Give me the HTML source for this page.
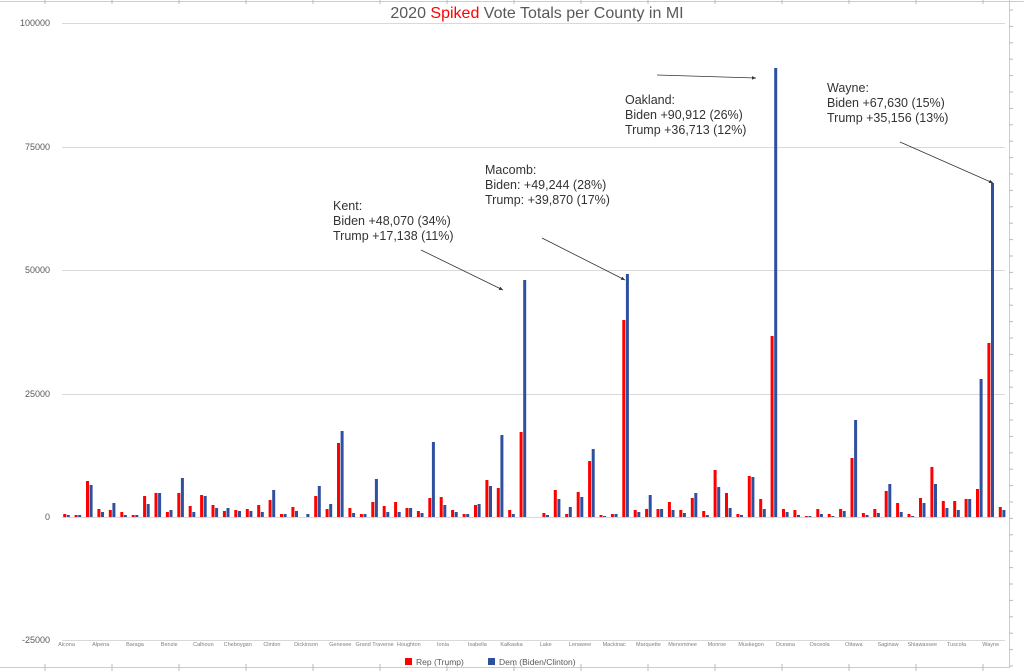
<!DOCTYPE html>
<html><head><meta charset="utf-8">
<style>
html,body{margin:0;padding:0;background:#fff;width:1024px;height:671px;overflow:hidden}
svg{display:block;font-family:"Liberation Sans",Calibri,sans-serif}
</style></head>
<body>
<svg id="s" width="1024" height="671" xmlns="http://www.w3.org/2000/svg">
<defs><marker id="ah" markerWidth="6" markerHeight="6" refX="5" refY="3" orient="auto"><path d="M0,0.8 L5,3 L0,5.2 z" fill="#333"/></marker></defs>
<rect width="1024" height="671" fill="#fff"/>
<line x1="0" y1="1.5" x2="1024" y2="1.5" stroke="#ccc"/>
<line x1="1009.5" y1="0" x2="1009.5" y2="668" stroke="#ccc"/>
<line x1="0" y1="667.5" x2="1009" y2="667.5" stroke="#ccc"/>
<g id="ticks" stroke="#bbb"></g>
<g stroke="#d9d9d9" stroke-width="1">
<line x1="62" y1="23.5" x2="1005" y2="23.5"/>
<line x1="62" y1="147.5" x2="1005" y2="147.5"/>
<line x1="62" y1="270.5" x2="1005" y2="270.5"/>
<line x1="62" y1="394.5" x2="1005" y2="394.5"/>
<line x1="62" y1="517.5" x2="1005" y2="517.5"/>
<line x1="62" y1="640.5" x2="1005" y2="640.5"/>
</g>
<g font-size="9" fill="#595959" text-anchor="end">
<text x="50" y="26">100000</text>
<text x="50" y="150">75000</text>
<text x="50" y="273">50000</text>
<text x="50" y="397">25000</text>
<text x="50" y="520">0</text>
<text x="50" y="643">-25000</text>
</g>
<text x="537" y="18" font-size="16" fill="#595959" text-anchor="middle">2020 <tspan fill="#ff0000">Spiked</tspan>  Vote Totals per County in MI</text>
<g id="bars"></g>
<g id="labs" font-size="5.5" fill="#7f7f7f" text-anchor="middle"></g>
<rect x="405" y="658" width="7" height="7" fill="#ff0000"/>
<text x="416" y="665" font-size="8.5" fill="#595959">Rep (Trump)</text>
<rect x="488" y="658" width="7" height="7" fill="#2f4f9f"/>
<text x="499" y="665" font-size="8.5" fill="#595959">Dem (Biden/Clinton)</text>
<g font-size="12.5" fill="#333">
<text x="333" y="210">Kent:</text>
<text x="333" y="225">Biden +48,070 (34%)</text>
<text x="333" y="240">Trump +17,138 (11%)</text>
<text x="485" y="174">Macomb:</text>
<text x="485" y="189">Biden: +49,244 (28%)</text>
<text x="485" y="204">Trump: +39,870 (17%)</text>
<text x="625" y="104">Oakland:</text>
<text x="625" y="119">Biden +90,912 (26%)</text>
<text x="625" y="134">Trump +36,713 (12%)</text>
<text x="827" y="92">Wayne:</text>
<text x="827" y="107">Biden +67,630 (15%)</text>
<text x="827" y="122">Trump +35,156 (13%)</text>
</g>
<g stroke="#333" stroke-width="0.8" marker-end="url(#ah)">
<line x1="421" y1="250" x2="503" y2="290"/>
<line x1="542" y1="238" x2="625" y2="280"/>
<line x1="657" y1="75" x2="756" y2="78"/>
<line x1="900" y1="142" x2="993" y2="183"/>
</g>
</svg>
<script>
var R=[3,2,36,8,7,5,2,21,24,5,24,11,22,12,6,7,8,12,17,3,10,0,21,8,74,9,3,15,11,15,9,6,19,20,7,3,12,37,29,7,85,0,4,27,3,25,56,2,3,197,7,8,8,15,7,19,6,47,24,3,41,18,181,8,7,1,8,3,8,59,4,8,26,14,3,19,50,16,16,18,28,174,10];
var B=[2,2,32,5,14,2,2,13,24,7,39,5,21,9,9,6,6,5,27,3,6,3,31,13,86,4,3,38,5,5,9,4,75,12,5,3,13,31,82,3,237,0,2,18,10,20,68,1,3,243,5,22,8,7,4,24,2,30,9,2,40,8,449,5,2,1,3,1,6,97,2,4,33,5,1,14,33,9,7,18,138,334,7];
var names=["Alcona","Alpena","Baraga","Benzie","Calhoun","Cheboygan","Clinton","Dickinson","Genesee","Grand Traverse","Houghton","Ionia","Isabella","Kalkaska","Lake","Lenawee","Mackinac","Marquette","Menominee","Monroe","Muskegon","Oceana","Osceola","Ottawa","Saginaw","Shiawassee","Tuscola","Wayne"];
var g=document.getElementById("bars"),h="";
for(var i=0;i<83;i++){var c=66.5+i*11.41;
 if(R[i]>0)h+='<rect x="'+(c-3.3).toFixed(1)+'" y="'+(517-R[i])+'" width="3" height="'+R[i]+'" fill="#ff0000"/>';
 if(B[i]>0)h+='<rect x="'+(c+0.3).toFixed(1)+'" y="'+(517-B[i])+'" width="3" height="'+B[i]+'" fill="#2f4f9f"/>';}
g.innerHTML=h;
var l="";for(var j=0;j<28;j++){l+='<text x="'+(66.5+j*3*11.41).toFixed(1)+'" y="646">'+names[j]+'</text>';}
document.getElementById("labs").innerHTML=l;
var t="";for(var x=45;x<1009;x+=67)t+='<line x1="'+x+'" y1="0" x2="'+x+'" y2="4"/><line x1="'+x+'" y1="664" x2="'+x+'" y2="671"/>';
for(var y=10;y<668;y+=16.4)t+='<line x1="1009" y1="'+y.toFixed(1)+'" x2="1013" y2="'+y.toFixed(1)+'"/>';
document.getElementById("ticks").innerHTML=t;
</script>
</body></html>
